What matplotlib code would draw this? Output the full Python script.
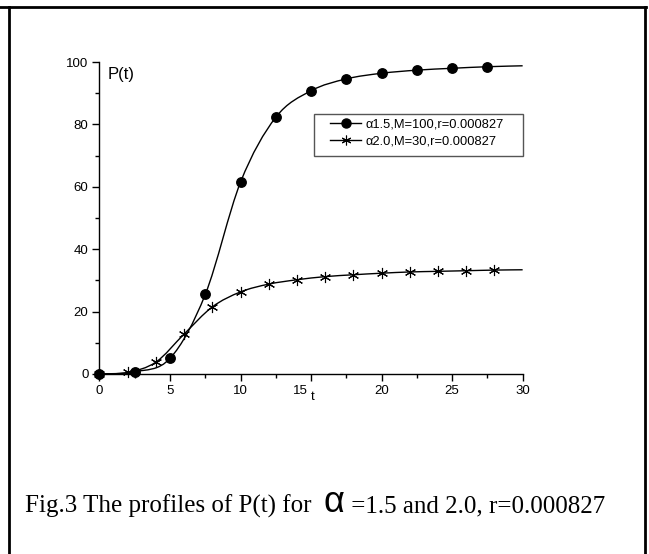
import matplotlib.pyplot as plt
import numpy as np
from matplotlib.path import Path
from matplotlib.patches import PathPatch, Rectangle
from matplotlib.lines import Line2D
from matplotlib.ticker import MultipleLocator
from matplotlib.transforms import ScaledTranslation

# data (last point of each set is line only, no marker)
t_a = [0, 2.5, 5, 7.5, 10, 12.5, 15, 17.5, 20, 22.5, 25, 27.5, 30]
p_a = [0, 0.7, 5.0, 25.5, 61.5, 82.3, 90.8, 94.6, 96.4, 97.4, 98.0, 98.5, 98.8]
t_b = [0, 2, 4, 6, 8, 10, 12, 14, 16, 18, 20, 22, 24, 26, 28, 30]
p_b = [0, 0.5, 3.8, 12.8, 21.5, 26.3, 28.8, 30.2, 31.2, 31.8, 32.3, 32.7, 32.9, 33.1, 33.3, 33.4]
x_ticks = [0, 5, 10, 15, 20, 25, 30]
label_a = '\u03b11.5,M=100,r=0.000827'
label_b = '\u03b12.0,M=30,r=0.000827'
caption = 'Fig.3 The profiles of P(t) for  '
caption2 = ' =1.5 and 2.0, r=0.000827'


def smooth_path(x, y):
	# catmull-rom through the points, as cubic bezier segments
	x = np.asarray(x, float)
	y = np.asarray(y, float)
	verts = [(x[0], y[0])]
	codes = [Path.MOVETO]
	n = len(x)
	for i in range(n - 1):
		x0, y0 = (x[i - 1], y[i - 1]) if i > 0 else (x[i], y[i])
		x3, y3 = (x[i + 2], y[i + 2]) if i + 2 < n else (x[i + 1], y[i + 1])
		c1 = (x[i] + (x[i + 1] - x0) / 6, y[i] + (y[i + 1] - y0) / 6)
		c2 = (x[i + 1] - (x3 - x[i]) / 6, y[i + 1] - (y3 - y[i]) / 6)
		verts += [c1, c2, (x[i + 1], y[i + 1])]
		codes += [Path.CURVE4] * 3
	return Path(verts, codes)


plt.rcParams['font.family'] = 'Liberation Sans'
fig = plt.figure(figsize=(6.49, 5.54), dpi=100)
ax = fig.add_axes([0.1533, 0.325, 0.652, 0.563])

ax.add_patch(PathPatch(smooth_path(t_a, p_a), fill=False, lw=1.0, color='black'))
ax.add_patch(PathPatch(smooth_path(t_b, p_b), fill=False, lw=1.0, color='black'))
ax.plot(t_a[:-1], p_a[:-1], 'o', color='black', ms=6.8, ls='none')
ax.plot(t_b[:-1], p_b[:-1], marker=(6, 2, 0), color='black', ms=8, mew=0.8, ls='none')

ax.set_xlim(0, 30)
ax.set_ylim(0, 100)
ax.spines['top'].set_visible(False)
ax.spines['right'].set_visible(False)
ax.set_xticks(x_ticks)
ax.xaxis.set_minor_locator(MultipleLocator(2.5))
ax.yaxis.set_major_locator(MultipleLocator(20))
ax.yaxis.set_minor_locator(MultipleLocator(10))
ax.tick_params(which='major', direction='out', length=5, width=1, labelsize=9.5, pad=3)
ax.tick_params(which='minor', direction='out', length=3, width=1)
for s in ['left', 'bottom']:
	ax.spines[s].set_linewidth(1)
for art in ax.patches + ax.lines:
	art.set_clip_on(False)

# the "15" label sits a little left of its tick, with the t after it
lab15 = ax.xaxis.get_major_ticks()[3].label1
lab15.set_transform(lab15.get_transform() + ScaledTranslation(-8 / 72, 0, fig.dpi_scale_trans))

ax.text(0.6, 98.5, 'P(t)', fontsize=12, va='top', ha='left')
ax.text(15.0, -5.6, 't', fontsize=9.5, va='top', ha='left')

# legend box drawn separately, legend entries inside it
ax.add_patch(Rectangle((0.507, 0.699), 0.493, 0.134, transform=ax.transAxes,
	fill=False, edgecolor='#555555', lw=1, clip_on=False))
h_a = Line2D([], [], color='black', lw=1, marker='o', ms=6.5)
h_b = Line2D([], [], color='black', lw=1, marker=(6, 2, 0), ms=7, mew=0.8)
leg = ax.legend([h_a, h_b], [label_a, label_b], loc='upper right',
	bbox_to_anchor=(0.955, 0.818), borderaxespad=0, fontsize=9.3, frameon=False,
	handlelength=2.4, handletextpad=0.3, borderpad=0, labelspacing=0.35)

# caption in three pieces, placed one after another
fig.canvas.draw()
r = fig.canvas.get_renderer()
y0 = 0.075
t1 = fig.text(0.038, y0, caption, fontsize=18, family='Liberation Serif', va='baseline')
bb = t1.get_window_extent(r).transformed(fig.transFigure.inverted())
t2 = fig.text(bb.x1, y0, '\u03b1', fontsize=26, family='Liberation Sans', va='baseline')
bb = t2.get_window_extent(r).transformed(fig.transFigure.inverted())
fig.text(bb.x1, y0, caption2, fontsize=18, family='Liberation Serif', va='baseline')

# outer frame
fig.add_artist(Line2D([0, 0.995], [0.987, 0.987], color='black', lw=2, transform=fig.transFigure))
fig.add_artist(Line2D([0.014, 0.014], [0, 0.987], color='black', lw=2, transform=fig.transFigure))
fig.add_artist(Line2D([0.994, 0.994], [0, 0.987], color='black', lw=2, transform=fig.transFigure))

plt.savefig('out.png')
plt.close()
